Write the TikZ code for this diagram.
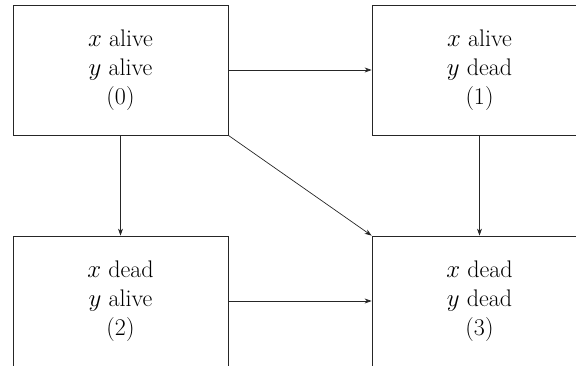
\documentclass[tikz,border=0pt]{standalone}
\usetikzlibrary{arrows.meta}
\begin{document}
\begin{tikzpicture}[x=1pt,y=-1pt,
  statebox/.style={draw=black!85,line width=0.8pt,rectangle,minimum width=215pt,minimum height=130pt,inner sep=0pt,align=center,font=\fontsize{24}{29}\selectfont},
  conn/.style={draw=black!85,line width=0.7pt,-{Stealth[length=7pt,width=5pt]}}]
\useasboundingbox (0,0) rectangle (576,366);
\clip (0,0) rectangle (576,366);
\node[statebox] (n0) at (120.5,70) {$x$ alive\\$y$ alive\\(0)};
\node[statebox] (n1) at (479.5,70) {$x$ alive\\$y$ dead\\(1)};
\node[statebox] (n2) at (120.5,301) {$x$ dead\\$y$ alive\\(2)};
\node[statebox] (n3) at (479.5,301) {$x$ dead\\$y$ dead\\(3)};
\draw[conn] (n0.east) -- (n1.west);
\draw[conn] (n0.south) -- (n2.north);
\draw[conn] (n0.south east) -- (n3.north west);
\draw[conn] (n1.south) -- (n3.north);
\draw[conn] (n2.east) -- (n3.west);
\end{tikzpicture}
\end{document}
